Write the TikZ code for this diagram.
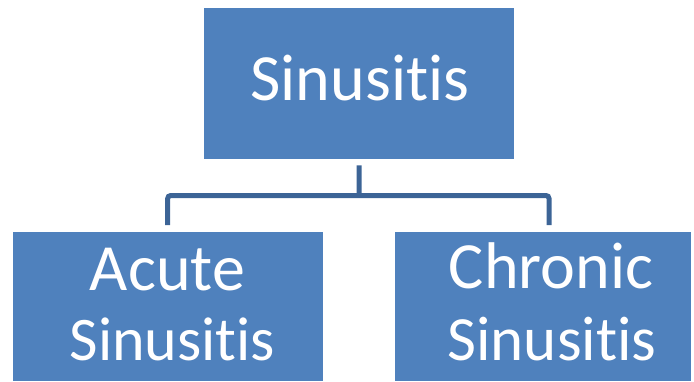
\documentclass[tikz,border=0pt]{standalone}
\usepackage{fontspec}
\setmainfont[Ligatures={NoCommon}]{Carlito}
\definecolor{boxblue}{RGB}{79,129,189}
\definecolor{linkblue}{RGB}{60,100,150}
\begin{document}
\begin{tikzpicture}[x=1pt,y=-1pt,
  box/.style={fill=boxblue, draw=none, inner sep=0pt, anchor=north west},
  lbl/.style={text=white, font=\fontsize{62}{72}\selectfont, anchor=base, inner sep=0pt},
  biglbl/.style={lbl, font=\fontsize{66}{78}\selectfont},
  link/.style={draw=linkblue, line width=5pt, rounded corners=3pt}]
\useasboundingbox (0,0) rectangle (694,381);
\node[box, minimum width=310pt, minimum height=151pt] (top) at (204,8) {};
\node[box, minimum width=310pt, minimum height=149pt] (acute) at (12.5,232) {};
\node[box, minimum width=296pt, minimum height=149pt] (chronic) at (395,232) {};
\node[biglbl] (ttop) at (360,100) {Sinusitis};
\node[biglbl] (ta1) at (167.5,290) {Acute};
\node[lbl] (ta2) at (172.5,360) {Sinusitis};
\node[biglbl] (tc1) at (551,288) {Chronic};
\node[lbl, font=\fontsize{63}{72}\selectfont] (tc2) at (552,360) {Sinusitis};
\coordinate (mid) at (359,195.5);
\coordinate (la) at (167.7,225);
\coordinate (ra) at (549,225);
\draw[link] ([yshift=-6pt]top.south) -- (mid);
\draw[link] (la) |- (mid) -| (ra);
\end{tikzpicture}
\end{document}
